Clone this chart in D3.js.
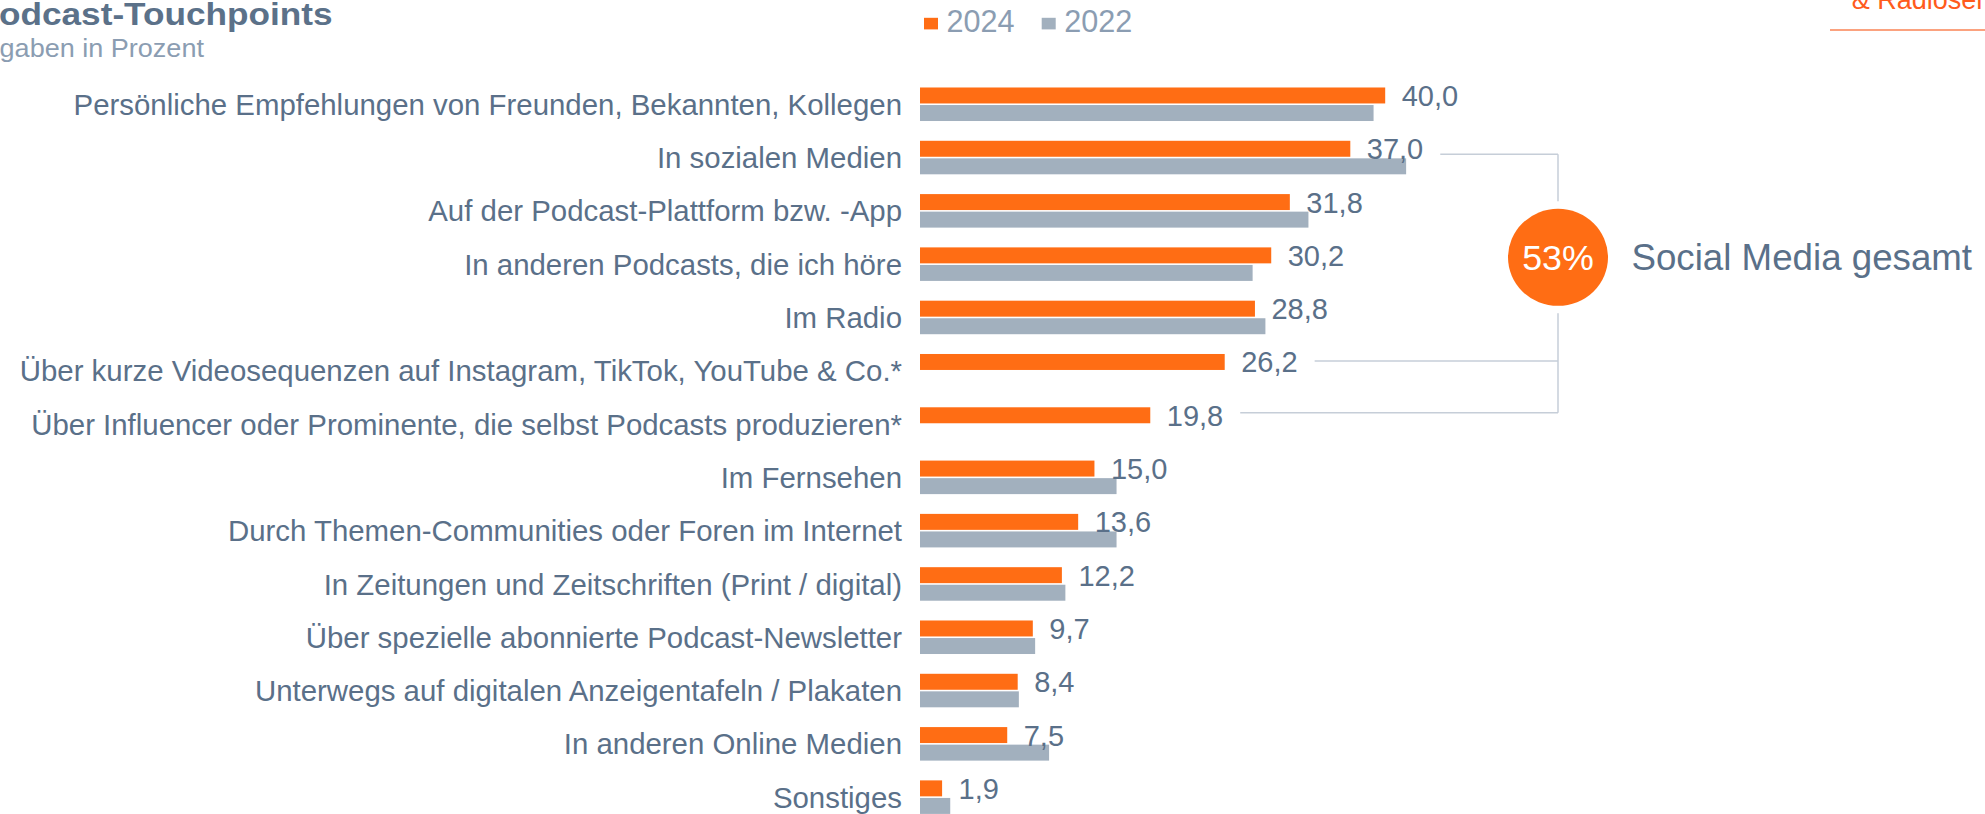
<!DOCTYPE html>
<html lang="de">
<head>
<meta charset="utf-8">
<title>Podcast-Touchpoints</title>
<script src="https://cdn.jsdelivr.net/npm/d3@7/dist/d3.min.js"></script>
<style>
  html, body { margin: 0; padding: 0; background: #ffffff; }
  svg { display: block; font-family: Arial, "Liberation Sans", sans-serif; }
</style>
</head>
<body>
<svg id="chart" width="1985" height="814"></svg>
<script>
// Touchpoints, über die Podcasts entdeckt werden (Angaben in Prozent)
const categories = [
  "Persönliche Empfehlungen von Freunden, Bekannten, Kollegen",
  "In sozialen Medien",
  "Auf der Podcast-Plattform bzw. -App",
  "In anderen Podcasts, die ich höre",
  "Im Radio",
  "Über kurze Videosequenzen auf Instagram, TikTok, YouTube & Co.*",
  "Über Influencer oder Prominente, die selbst Podcasts produzieren*",
  "Im Fernsehen",
  "Durch Themen-Communities oder Foren im Internet",
  "In Zeitungen und Zeitschriften (Print / digital)",
  "Über spezielle abonnierte Podcast-Newsletter",
  "Unterwegs auf digitalen Anzeigentafeln / Plakaten",
  "In anderen Online Medien",
  "Sonstiges"
];
const series = ["2024", "2022"];
const values2024 = [40.0, 37.0, 31.8, 30.2, 28.8, 26.2, 19.8, 15.0, 13.6, 12.2, 9.7, 8.4, 7.5, 1.9];
const values2022 = [39.0, 41.8, 33.4, 28.6, 29.7, null, null, 16.9, 16.9, 12.5, 9.9, 8.5, 11.1, 2.6];

// Social-Media-Klammer
const socialRows = [
  "In sozialen Medien",
  "Über kurze Videosequenzen auf Instagram, TikTok, YouTube & Co.*",
  "Über Influencer oder Prominente, die selbst Podcasts produzieren*"
];
const socialAnchorRow = "In anderen Podcasts, die ich höre";
const socialTotal = 53;
const socialLabel = "Social Media gesamt";

const titleText = "Podcast-Touchpoints";
const subtitleText = "Angaben in Prozent";
const cornerText = "& Radiosender";

const COLORS = { "2024": "#ff6d14", "2022": "#a2b0be" };
const TEXT = "#5a7089";
const LIGHT_TEXT = "#8b9db2";
const BRACKET = "#c6ced8";

const de = d3.formatLocale({ decimal: ",", thousands: ".", grouping: [3], currency: ["", " €"] });
const fmt = de.format(".1f");

const svg = d3.select("#chart");
svg.append("rect").attr("width", 1985).attr("height", 814).attr("fill", "#fff");

// Scales
const x = d3.scaleLinear().domain([0, 40]).range([920, 1385.2]);
const step = 53.3;
const y = d3.scaleBand()
  .domain(categories)
  .range([77.6, 77.6 + step * categories.length])
  .paddingInner(0.371)
  .paddingOuter(0.371 / 2);
const ySub = d3.scaleBand().domain(series).range([0, y.bandwidth()]).paddingInner(0.09);

const rows = categories.map((c, i) => ({
  cat: c,
  "2024": values2024[i],
  "2022": values2022[i]
}));

// Bars
const g = svg.append("g");
const rowG = g.selectAll("g.row").data(rows).join("g")
  .attr("class", "row")
  .attr("transform", d => `translate(0,${y(d.cat)})`);

rowG.selectAll("rect")
  .data(d => series.filter(s => d[s] != null).map(s => ({ s, v: d[s] })))
  .join("rect")
  .attr("x", x(0))
  .attr("y", d => ySub(d.s))
  .attr("width", d => x(d.v) - x(0))
  .attr("height", ySub.bandwidth())
  .attr("fill", d => COLORS[d.s]);

// Category labels
const orangeMid = cat => y(cat) + ySub("2024") + ySub.bandwidth() / 2;
const groupMid = cat => y(cat) + y.bandwidth() / 2;

g.selectAll("text.cat").data(rows).join("text")
  .attr("class", "cat")
  .attr("x", 902)
  .attr("y", d => groupMid(d.cat) + 10.6)
  .attr("text-anchor", "end")
  .attr("font-size", 29.4)
  .attr("fill", TEXT)
  .text(d => d.cat);

// Value labels (2024)
const valueLabels = g.selectAll("text.val").data(rows).join("text")
  .attr("class", "val")
  .attr("x", d => x(d["2024"]) + 16.5)
  .attr("y", d => orangeMid(d.cat) + 10.5)
  .attr("font-size", 29)
  .attr("fill", TEXT)
  .text(d => fmt(d["2024"]));

// Social media bracket
const labelEnd = {};
valueLabels.each(function (d) {
  labelEnd[d.cat] = x(d["2024"]) + 16.5 + this.getComputedTextLength();
});
const bracketX = 1558;
const bracketShift = [5.5, -1, -2.6];
const br = svg.append("g")
  .attr("stroke", BRACKET)
  .attr("stroke-width", 1.5)
  .attr("fill", "none");
const lineY = socialRows.map((c, i) => orangeMid(c) + bracketShift[i]);
socialRows.forEach((c, i) => {
  br.append("line")
    .attr("x1", labelEnd[c] + 17).attr("x2", bracketX)
    .attr("y1", lineY[i]).attr("y2", lineY[i]);
});
br.append("line")
  .attr("x1", bracketX).attr("x2", bracketX)
  .attr("y1", d3.min(lineY)).attr("y2", d3.max(lineY));

const cy = orangeMid(socialAnchorRow) + 2;
svg.append("ellipse")
  .attr("cx", bracketX).attr("cy", cy)
  .attr("rx", 58).attr("ry", 56)
  .attr("fill", "#fff");
svg.append("ellipse")
  .attr("cx", bracketX).attr("cy", cy)
  .attr("rx", 50).attr("ry", 48.5)
  .attr("fill", COLORS["2024"]);
svg.append("text")
  .attr("x", bracketX).attr("y", cy + 12.8)
  .attr("text-anchor", "middle")
  .attr("font-size", 35.8)
  .attr("fill", "#fff")
  .text(socialTotal + "%");
svg.append("text")
  .attr("x", 1631.5).attr("y", cy + 13)
  .attr("font-size", 36.7)
  .attr("fill", TEXT)
  .text(socialLabel);

// Legend
const legend = svg.append("g");
const legendX = { "2024": 924, "2022": 1041.7 };
series.forEach(s => {
  legend.append("rect")
    .attr("x", legendX[s]).attr("y", 17.8)
    .attr("width", 14).attr("height", 11.6)
    .attr("fill", COLORS[s]);
  legend.append("text")
    .attr("x", legendX[s] + 22.5).attr("y", 32.3)
    .attr("font-size", 30.6)
    .attr("fill", LIGHT_TEXT)
    .text(s);
});

// Title block
svg.append("text")
  .attr("transform", "translate(-24.5,25) scale(1.1,1)")
  .attr("font-size", 32)
  .attr("font-weight", "bold")
  .attr("fill", "#5b7189")
  .text(titleText);
svg.append("text")
  .attr("transform", "translate(-33.5,56.7) scale(1.04,1)")
  .attr("font-size", 26)
  .attr("fill", LIGHT_TEXT)
  .text(subtitleText);

// Corner header
svg.append("text")
  .attr("x", 1851.7).attr("y", 9.3)
  .attr("font-size", 27)
  .attr("fill", "#ff5b1c")
  .text(cornerText);
svg.append("line")
  .attr("x1", 1830).attr("x2", 1985)
  .attr("y1", 30).attr("y2", 30)
  .attr("stroke", "#fba27f")
  .attr("stroke-width", 2);
</script>
</body>
</html>
